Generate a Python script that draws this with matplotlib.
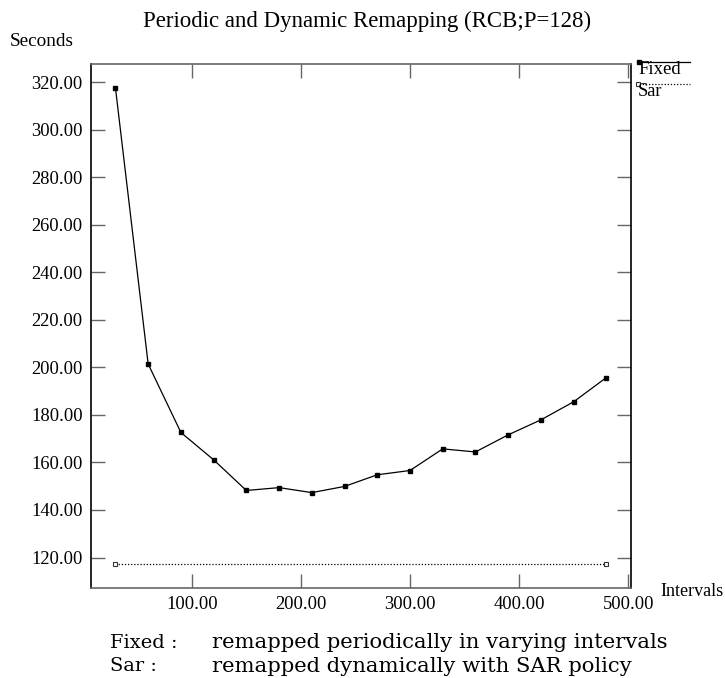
import matplotlib
matplotlib.use("Agg")
import matplotlib.pyplot as plt
from matplotlib.lines import Line2D

intervals = [30, 60, 90, 120, 150, 180, 210, 240, 270, 300, 330, 360, 390, 420, 450, 480]
fixed_sec = [317.6, 201.4, 172.6, 161.1, 148.2, 149.4, 147.3, 149.9, 154.8, 156.6,
             165.7, 164.4, 171.6, 177.9, 185.5, 195.7]
sar_x = [30, 480]
sar_sec = [117.3, 117.3]
xticks = [100, 200, 300, 400, 500]
yticks = [120, 140, 160, 180, 200, 220, 240, 260, 280, 300, 320]

serif = ["Liberation Serif", "DejaVu Serif"]
W, H = 725, 678
fig = plt.figure(figsize=(W / 100, H / 100), dpi=100)
ax = fig.add_axes([91 / W, 1 - 587.7 / H, (631 - 91) / W, (587.7 - 64) / H])

ax.plot(intervals, fixed_sec, color="black", lw=0.9, marker="s", ms=3.2,
        mfc="black", mec="black")
ax.plot(sar_x, sar_sec, color="black", lw=0.9, ls=(0, (1, 1.5)), marker="s", ms=3.2,
        mfc="white", mec="#333333", mew=0.8)

ax.set_xlim(7.6, 502.6)
ax.set_ylim(107.3, 327.6)
ax.set_xticks(xticks)
ax.set_xticklabels([f"{v:.2f}" for v in xticks], family=serif, fontsize=13.3)
ax.set_yticks(yticks)
ax.set_yticklabels([f"{v:.2f}" for v in yticks], family=serif, fontsize=13.3)
ax.tick_params(direction="in", length=10, width=1, color="#666666",
               top=True, right=True, pad=6)
for side in ("left", "right"):
    ax.spines[side].set_color("black")
    ax.spines[side].set_linewidth(1.2)
for side in ("top", "bottom"):
    ax.spines[side].set_color("#666666")
    ax.spines[side].set_linewidth(1.2)

fig.text(367 / W, 1 - 21 / H, "Periodic and Dynamic Remapping (RCB;P=128)",
         family=serif, fontsize=16.5, ha="center", va="center")
fig.text(10 / W, 1 - 41 / H, "Seconds", family=serif, fontsize=13.8, ha="left", va="center")
fig.text(660 / W, 1 - 591 / H, "Intervals", family=serif, fontsize=13, ha="left", va="center")

# legend at top right, outside the axes
def fx(px):
    return px / W
def fy(py):
    return 1 - py / H

fig.add_artist(Line2D([fx(638), fx(690)], [fy(61.7), fy(61.7)], color="black", lw=0.9))
fig.add_artist(Line2D([fx(639)], [fy(61.7)], marker="s", ms=3.2, color="black", ls="none"))
fig.text(fx(638), fy(70), "Fixed", family=serif, fontsize=13.5, ha="left", va="center")
fig.add_artist(Line2D([fx(636), fx(690)], [fy(84), fy(84)], color="black", lw=0.9, ls=(0, (1, 1.5))))
fig.add_artist(Line2D([fx(637.7)], [fy(83.5)], marker="s", ms=3.2, mfc="white",
                      mec="#333333", mew=0.8, ls="none"))
fig.text(fx(638), fy(92), "Sar", family=serif, fontsize=13.2, ha="left", va="center")

cap = ["DejaVu Serif"]
fig.text(fx(110), fy(643), "Fixed :", family=cap, fontsize=14, ha="left", va="center")
fig.text(fx(212), fy(643), "remapped periodically in varying intervals", family=cap,
         fontsize=15.2, ha="left", va="center")
fig.text(fx(110), fy(666), "Sar :", family=cap, fontsize=14, ha="left", va="center")
fig.text(fx(212), fy(666), "remapped dynamically with SAR policy", family=cap,
         fontsize=15.2, ha="left", va="center")

fig.savefig("out.png", dpi=100)
